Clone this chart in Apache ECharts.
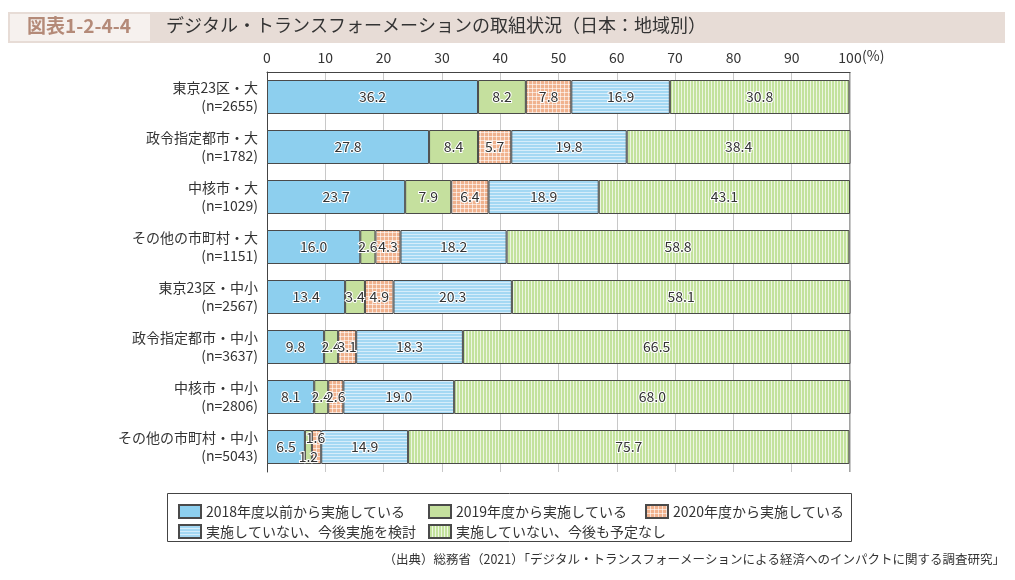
<!DOCTYPE html>
<html><head><meta charset="utf-8">
<script src="https://cdn.jsdelivr.net/npm/echarts@6/dist/echarts.min.js"></script>
<style>html,body{margin:0;padding:0;background:#fff}#c{width:1015px;height:580px}</style>
</head><body><div id="c"></div>
<script>
const categories = ['東京23区・大\n(n=2655)','政令指定都市・大\n(n=1782)','中核市・大\n(n=1029)','その他の市町村・大\n(n=1151)','東京23区・中小\n(n=2567)','政令指定都市・中小\n(n=3637)','中核市・中小\n(n=2806)','その他の市町村・中小\n(n=5043)'];
const seriesNames = ['2018年度以前から実施している','2019年度から実施している','2020年度から実施している','実施していない、今後実施を検討','実施していない、今後も予定なし'];
const before2018 = [36.2,27.8,23.7,16.0,13.4,9.8,8.1,6.5];
const from2019 = [8.2,8.4,7.9,2.6,3.4,2.4,2.4,1.2];
const from2020 = [7.8,5.7,6.4,4.3,4.9,3.1,2.6,1.6];
const considering = [16.9,19.8,18.9,18.2,20.3,18.3,19.0,14.9];
const noPlan = [30.8,38.4,43.1,58.8,58.1,66.5,68.0,75.7];
const xTicks = [0,10,20,30,40,50,60,70,80,90,100];

const FONT = '"Noto Sans CJK JP","Noto Sans",sans-serif';
function pat(w,h,base, draw){
  const c=document.createElement('canvas');c.width=w;c.height=h;
  const g=c.getContext('2d');g.fillStyle=base;g.fillRect(0,0,w,h);g.fillStyle='#fff';draw(g);
  return {image:c,repeat:'repeat'};
}
const orangePat = pat(4,4,'#f0b28e', g=>{g.globalAlpha=0.6;g.fillRect(0,0,4,1);g.fillRect(0,0,1,4);});
const bluePat = pat(3,3,'#a4d8f3', g=>{g.globalAlpha=0.55;g.fillRect(0,0,3,1);});
const greenPat = pat(3,3,'#c3e29d', g=>{g.globalAlpha=0.7;g.fillRect(0,0,1,3);});
const colors = ['#8dcfee','#c5e09e',orangePat,bluePat,greenPat];
const dataArr = [before2018,from2019,from2020,considering,noPlan];

const chart = echarts.init(document.getElementById('c'));
const series = dataArr.map((d,i)=>({
  name: seriesNames[i], type:'bar', stack:'a', barWidth:34,
  itemStyle:{color:colors[i], borderColor:'#4a4a4a', borderWidth:1},
  label:{show:true, position:'inside', fontSize:14, fontFamily:FONT, color:'#333',
    textBorderColor:'#fff', textBorderWidth:2, formatter:p=>p.value.toFixed(1)},
  data: d.map((v,j)=>{
    const o={value:v};
    if(j===7 && i===1) o.label={offset:[0,10]};
    if(j===7 && i===2) o.label={offset:[-1,-9]};
    return o;
  })
}));

const legendBase = {orient:'vertical',top:499,itemWidth:22,itemHeight:13,itemGap:5,icon:'rect',
  textStyle:{fontSize:14,color:'#333',fontFamily:FONT},selectedMode:false};

chart.setOption({
  animation:false,
  textStyle:{fontFamily:FONT},
  grid:{left:267,right:165,top:72,bottom:108},
  xAxis:{type:'value',position:'top',min:0,max:100,interval:10,
    axisLine:{show:true,lineStyle:{color:'#444'}},axisTick:{show:false},
    axisLabel:{fontSize:14,color:'#333',fontFamily:FONT,margin:7},
    splitLine:{show:true,lineStyle:{color:'#c8c8c8'}}},
  yAxis:{type:'category',data:categories,inverse:true,
    axisLine:{show:true,lineStyle:{color:'#444'}},axisTick:{show:false},
    axisLabel:{fontSize:14,color:'#333',fontFamily:FONT,align:'right',margin:9,lineHeight:18}},
  legend:[
    Object.assign({data:[seriesNames[0],seriesNames[3]],left:173},legendBase),
    Object.assign({data:[seriesNames[1],seriesNames[4]],left:423},legendBase),
    Object.assign({data:[seriesNames[2]],left:640},legendBase)
  ],
  graphic:[
    {type:'rect',shape:{x:8,y:12,width:997,height:31},style:{fill:'#e7dcd6'},silent:true},
    {type:'rect',shape:{x:10,y:14,width:140,height:27},style:{fill:'#f6f1ee'},silent:true},
    {type:'text',left:27,top:16,style:{text:'図表1-2-4-4',fontSize:19,fontWeight:'bold',fill:'#b48a78',fontFamily:FONT}},
    {type:'text',left:166,top:16,style:{text:'デジタル・トランスフォーメーションの取組状況（日本：地域別）',fontSize:18,fill:'#333',fontFamily:FONT}},
    {type:'text',left:862,top:49,style:{text:'(%)',fontSize:14,fill:'#333',fontFamily:FONT}},
    {type:'line',shape:{x1:850,y1:72,x2:850,y2:472},style:{stroke:'#444',lineWidth:1},silent:true},
    {type:'rect',shape:{x:167.5,y:493.5,width:684,height:48},style:{fill:'none',stroke:'#444',lineWidth:1},silent:true},
    {type:'text',right:10,top:553,style:{text:'（出典）総務省（2021）「デジタル・トランスフォーメーションによる経済へのインパクトに関する調査研究」',fontSize:12.5,fill:'#333',fontFamily:FONT}}
  ],
  series
});
</script></body></html>
